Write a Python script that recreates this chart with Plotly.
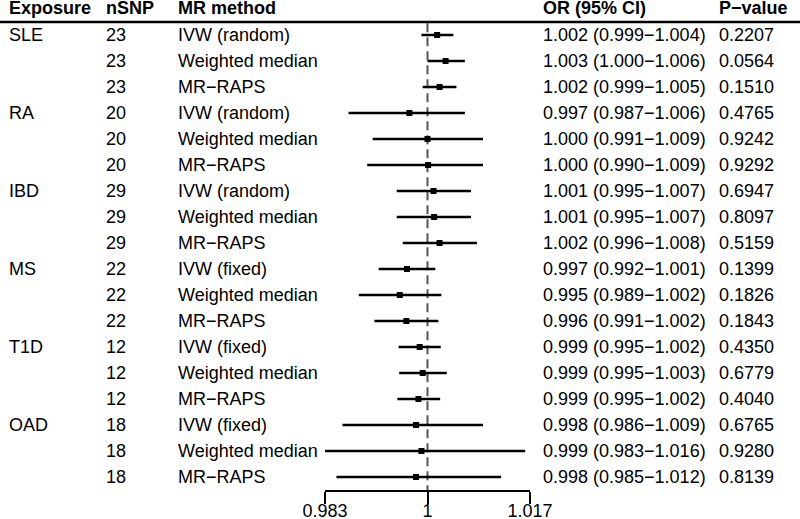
import plotly.graph_objects as go

exposure = ["SLE", "", "", "RA", "", "", "IBD", "", "", "MS", "", "", "T1D", "", "", "OAD", "", ""]
nsnp = ["23", "23", "23", "20", "20", "20", "29", "29", "29", "22", "22", "22", "12", "12", "12", "18", "18", "18"]
method = ["IVW (random)", "Weighted median", "MR\u2212RAPS"] * 3 + ["IVW (fixed)", "Weighted median", "MR\u2212RAPS"] * 3
or_est = [1.0016, 1.0030, 1.0020, 0.9970, 1.0000, 1.0001,
          1.0010, 1.0011, 1.0020, 0.9966, 0.9954, 0.9965,
          0.9987, 0.9992, 0.9985, 0.9981, 0.9990, 0.9981]
ci_lo = [0.9990, 1.0000, 0.9992, 0.9869, 0.9909, 0.9900,
         0.9949, 0.9949, 0.9959, 0.9919, 0.9886, 0.9912,
         0.9952, 0.9953, 0.9950, 0.9859, 0.9828, 0.9849]
ci_hi = [1.0043, 1.0062, 1.0048, 1.0062, 1.0092, 1.0092,
         1.0072, 1.0072, 1.0082, 1.0013, 1.0023, 1.0018,
         1.0022, 1.0032, 1.0021, 1.0092, 1.0162, 1.0122]
or_text = ["1.002 (0.999\u22121.004)", "1.003 (1.000\u22121.006)", "1.002 (0.999\u22121.005)",
           "0.997 (0.987\u22121.006)", "1.000 (0.991\u22121.009)", "1.000 (0.990\u22121.009)",
           "1.001 (0.995\u22121.007)", "1.001 (0.995\u22121.007)", "1.002 (0.996\u22121.008)",
           "0.997 (0.992\u22121.001)", "0.995 (0.989\u22121.002)", "0.996 (0.991\u22121.002)",
           "0.999 (0.995\u22121.002)", "0.999 (0.995\u22121.003)", "0.999 (0.995\u22121.002)",
           "0.998 (0.986\u22121.009)", "0.999 (0.983\u22121.016)", "0.998 (0.985\u22121.012)"]
p_value = ["0.2207", "0.0564", "0.1510", "0.4765", "0.9242", "0.9292",
           "0.6947", "0.8097", "0.5159", "0.1399", "0.1826", "0.1843",
           "0.4350", "0.6779", "0.4040", "0.6765", "0.9280", "0.8139"]
headers = ["Exposure", "nSNP", "MR method", "OR (95% CI)", "P\u2212value"]
tick_vals = [0.983, 1, 1.017]
tick_text = ["0.983", "1", "1.017"]

W, H = 800, 519
FONT = "Liberation Sans, Arial, Helvetica, sans-serif"
FS = 18
col_x = [7, 104, 176, 541, 717]

rows = list(range(len(method)))
fig = go.Figure()

# reference line
fig.add_trace(go.Scatter(x=[1, 1], y=[-0.45, 17.5], mode="lines",
                         line=dict(color="#555555", width=2, dash="9px,5px"),
                         hoverinfo="skip", showlegend=False))
# CI + point estimates
fig.add_trace(go.Scatter(
    x=or_est, y=rows, mode="markers",
    marker=dict(symbol="square", size=6, color="black"),
    error_x=dict(type="data", symmetric=False,
                 array=[h - e for h, e in zip(ci_hi, or_est)],
                 arrayminus=[e - l for e, l in zip(or_est, ci_lo)],
                 color="black", thickness=2.3, width=0),
    showlegend=False, cliponaxis=False))

ann = []
for j, h in enumerate(headers):
    ann.append(dict(x=col_x[j] / W, y=-1.04, xref="paper", yref="y", text="<b>" + h + "</b>",
                    showarrow=False, xanchor="left", yanchor="middle",
                    font=dict(family=FONT, size=FS, color="black")))
for i in rows:
    for j, col in enumerate([exposure, nsnp, method, or_text, p_value]):
        if col[i]:
            ann.append(dict(x=col_x[j] / W, y=i, xref="paper", yref="y", text=col[i],
                            showarrow=False, xanchor="left", yanchor="middle",
                            font=dict(family=FONT, size=FS, color="black")))

fig.update_layout(
    width=W, height=H, margin=dict(l=0, r=0, t=0, b=0, autoexpand=False),
    paper_bgcolor="white", plot_bgcolor="white",
    annotations=ann,
    shapes=[dict(type="line", xref="paper", yref="y", x0=0, x1=1, y0=-0.5, y1=-0.5,
                 line=dict(color="black", width=2.5))],
    xaxis=dict(domain=[325 / W, 530 / W], range=[0.983, 1.017], automargin=False,
               showgrid=False, zeroline=False, showline=True, linecolor="black", linewidth=2,
               ticks="outside", ticklen=12, tickwidth=2, tickcolor="black",
               tickvals=tick_vals, ticktext=tick_text, ticklabelstandoff=-9,
               tickfont=dict(family=FONT, size=FS, color="black")),
    yaxis=dict(domain=[(H - 490) / H, 1], range=[17.5, -1.346], visible=False,
               showgrid=False, zeroline=False, automargin=False),
)

fig.write_html("out.html", config={"displayModeBar": False},
               post_script="document.body.style.margin='0';")
